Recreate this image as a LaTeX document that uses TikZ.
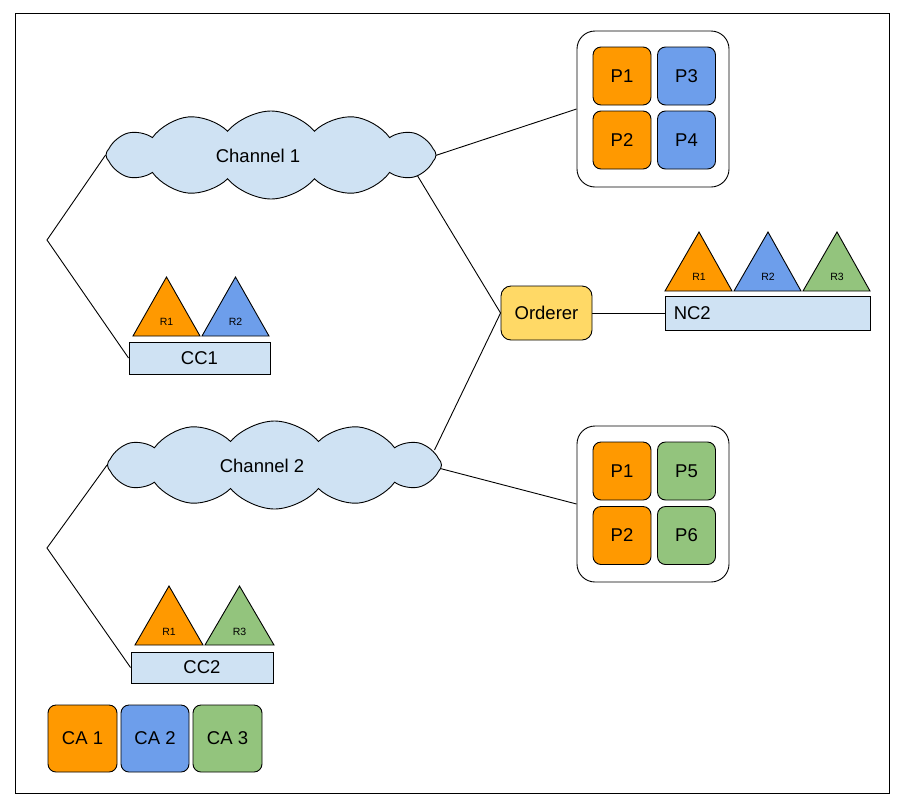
\documentclass[tikz,border=0pt]{standalone}
\usepackage{fontspec}
\setmainfont{Liberation Sans}
\usetikzlibrary{shapes.symbols,backgrounds,calc}
\definecolor{gorange}{HTML}{FF9900}
\definecolor{gblue}{HTML}{6D9EEB}
\definecolor{ggreen}{HTML}{93C47D}
\definecolor{glight}{HTML}{CFE2F3}
\definecolor{gyellow}{HTML}{FFD966}
\tikzset{
  big/.style={font=\fontsize{18.5}{21}\selectfont},
  small/.style={font=\fontsize{10.5}{12}\selectfont},
  edge/.style={draw=black, line width=0.9pt},
  pbox/.style={draw=black, line width=0.9pt, rounded corners=8pt, inner sep=0pt, minimum width=58pt, minimum height=58pt, big},
  cabox/.style={draw=black, line width=0.9pt, rounded corners=8pt, inner sep=0pt, minimum width=68pt, minimum height=67pt, big},
  group/.style={draw=black, line width=0.9pt, rounded corners=18pt, fill=white, inner sep=0pt, minimum width=152pt, minimum height=156pt},
  chan/.style={draw=black, line width=0.9pt, fill=glight, inner sep=0pt, minimum width=141pt, minimum height=32pt, big},
  cloudy/.style={cloud, cloud puffs=12, cloud puff arc=100, cloud ignores aspect, draw=black, line width=0.9pt, fill=glight, inner sep=0pt, minimum width=330pt, minimum height=88pt},
  tri/.style={draw=black, line width=0.9pt},
}
\begin{document}
\begin{tikzpicture}[x=1pt,y=-1pt]
\useasboundingbox (0,0) rectangle (901,809);
\node[draw=black, line width=0.9pt, minimum width=874pt, minimum height=780pt, inner sep=0pt] (frame) at (452,403) {};

% clouds
\node[cloudy] (c1) at (271,155) {};
\node[big] (c1t) at (258,156) {Channel 1};
\node[cloudy, minimum width=334pt] (c2) at (274.5,465) {};
\node[big] (c2t) at (262,466) {Channel 2};

% peer groups
\node[group] (g1) at (653,109) {};
\node[pbox, fill=gorange] (g1p1) at (622,76) {P1};
\node[pbox, fill=gblue] (g1p3) at (686.5,76) {P3};
\node[pbox, fill=gorange] (g1p2) at (622,140) {P2};
\node[pbox, fill=gblue] (g1p4) at (686.5,140) {P4};

\node[group] (g2) at (653,504) {};
\node[pbox, fill=gorange] (g2p1) at (622,471) {P1};
\node[pbox, fill=ggreen] (g2p5) at (686.5,471) {P5};
\node[pbox, fill=gorange] (g2p2) at (622,535.5) {P2};
\node[pbox, fill=ggreen] (g2p6) at (686.5,535.5) {P6};

% orderer
\node[draw=black, line width=0.9pt, fill=gyellow, rounded corners=10pt, minimum width=91pt, minimum height=54pt, inner sep=0pt, big] (ord) at (546.5,313) {Orderer};

% NC2
\node[chan, minimum width=205pt, minimum height=34pt] (nc2) at (767.5,313) {};
\node[big, anchor=west, inner sep=0pt] (nc2t) at ($(nc2.west)+(9,0)$) {NC2};
\draw[tri, fill=gorange] (665,291) -- (699,232) -- (732,291) -- cycle;
\node[small] (nr1) at (699,277) {R1};
\draw[tri, fill=gblue] (734,291) -- (768,232) -- (801,291) -- cycle;
\node[small] (nr2) at (768,277) {R2};
\draw[tri, fill=ggreen] (803,291) -- (837,232) -- (870,291) -- cycle;
\node[small] (nr3) at (837,277) {R3};

% CC1
\node[chan] (cc1) at (199.5,358) {CC1};
\draw[tri, fill=gorange] (133,336) -- (166.5,277) -- (200,336) -- cycle;
\node[small] (ar1) at (166.5,322) {R1};
\draw[tri, fill=gblue] (202,336) -- (235.5,277) -- (269,336) -- cycle;
\node[small] (ar2) at (235.5,322) {R2};

% CC2
\node[chan, minimum width=142pt, minimum height=31pt] (cc2) at (202,667.5) {CC2};
\draw[tri, fill=gorange] (135,645) -- (169,586) -- (203,645) -- cycle;
\node[small] (br1) at (169,632) {R1};
\draw[tri, fill=ggreen] (205,645) -- (239.5,586) -- (274,645) -- cycle;
\node[small] (br3) at (239.5,632) {R3};

% CAs
\node[cabox, fill=gorange, minimum width=69pt] (ca1) at (82.5,738.5) {CA 1};
\node[cabox, fill=gblue] (ca2) at (155,738.5) {CA 2};
\node[cabox, fill=ggreen, minimum width=69pt] (ca3) at (227.5,738.5) {CA 3};

% connectors
\coordinate (k1) at (47,240);
\coordinate (k2) at (47,548);
\begin{scope}[on background layer]
\draw[edge] (c1.west) -- (k1) -- (cc1.west);
\draw[edge] (c2.west) -- (k2) -- (cc2.west);
\draw[edge] ($(c1.center)+(160,2)$) -- (g1.west);
\draw[edge] ($(c1.center)+(140,10)$) -- (ord.west);
\draw[edge] ($(c2.center)+(160,-15)$) -- (ord.west);
\draw[edge] ($(c2.center)+(160,2)$) -- (g2.west);
\draw[edge] (ord.east) -- (nc2.west);
\end{scope}
\end{tikzpicture}
\end{document}
